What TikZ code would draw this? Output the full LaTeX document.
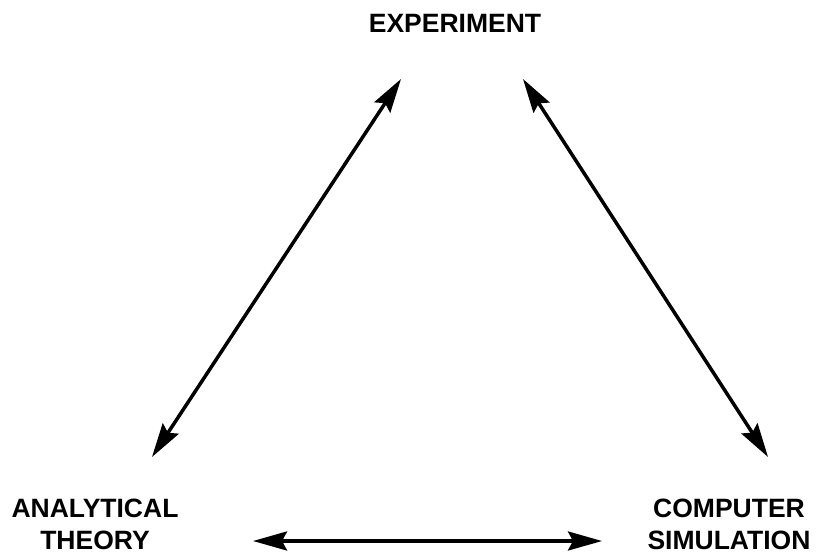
\documentclass[tikz,border=0pt]{standalone}
\usepackage{fontspec}
\setmainfont{Liberation Sans}
\usetikzlibrary{arrows.meta}
\begin{document}
\begin{tikzpicture}[x=1pt,y=-1pt,
  lbl/.style={font=\fontsize{26.5}{32}\selectfont\bfseries, inner sep=0pt, align=center, anchor=base},
  dbl/.style={line width=3.5pt, arrows={Stealth[length=34pt,width=19pt,inset=5pt]-Stealth[length=34pt,width=19pt,inset=5pt]}}]
\useasboundingbox (0,0) rectangle (817,556);
\node[lbl] (exp) at (455,33) {EXPERIMENT};
\node[lbl] (ana) at (95,549) {ANALYTICAL\\THEORY};
\node[lbl] (com) at (729,549) {COMPUTER\\SIMULATION};
\coordinate (aL) at (152,457);
\coordinate (eL) at (401,79);
\coordinate (eR) at (523,79);
\coordinate (cR) at (768,457);
\coordinate (hL) at (253,541);
\coordinate (hR) at (602,541);
\draw[dbl] (aL) -- (eL);
\draw[dbl] (eR) -- (cR);
\draw[dbl] (hL) -- (hR);
\end{tikzpicture}
\end{document}
